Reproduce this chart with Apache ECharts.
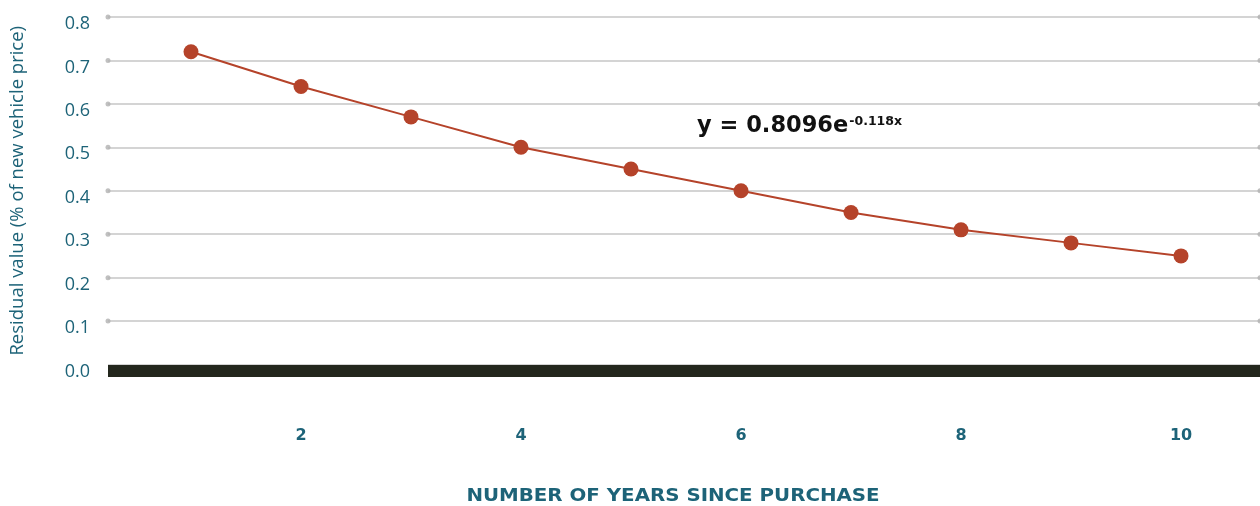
<!DOCTYPE html>
<html>
<head>
<meta charset="utf-8">
<script src="https://cdn.jsdelivr.net/npm/echarts@6/dist/echarts.min.js"></script>
<style>
  html, body { margin: 0; padding: 0; background: #fff; }
  #chart { width: 1260px; height: 506px; }
</style>
</head>
<body>
<div id="chart"></div>
<script>
// Years since purchase and the residual value share of the new price
const years = [1, 2, 3, 4, 5, 6, 7, 8, 9, 10];
const residual = [0.72, 0.64, 0.57, 0.50, 0.45, 0.40, 0.35, 0.31, 0.28, 0.25];
const xLabelYears = [2, 4, 6, 8, 10];
const yTicks = [0.1, 0.2, 0.3, 0.4, 0.5, 0.6, 0.7, 0.8];
const equationMain = 'y = 0.8096e';
const equationExp = '-0.118x';

const X_MIN = 0.2455, X_MAX = 10.718;
const TEAL = '#1d6378';
const RUST = '#b5432a';

const chart = echarts.init(document.getElementById('chart'));

// grey end caps on each horizontal grid line
const capData = [];
yTicks.forEach(v => { capData.push([X_MIN, v]); capData.push([X_MAX, v]); });

chart.setOption({
  animation: false,
  grid: { left: 108, right: 0, top: 17, bottom: 141.5 },
  xAxis: {
    type: 'value',
    min: X_MIN,
    max: X_MAX,
    offset: 6.5,
    axisLine: { show: true, onZero: false, lineStyle: { color: '#23271d', width: 12, cap: 'butt' } },
    axisTick: { show: false },
    splitLine: { show: false },
    axisLabel: {
      customValues: xLabelYears,
      margin: 57,
      color: TEAL,
      fontFamily: 'DejaVu Sans',
      fontWeight: 'bold',
      fontSize: 16
    }
  },
  yAxis: {
    type: 'value',
    min: 0,
    max: 0.8,
    interval: 0.1,
    name: 'Residual value (% of new vehicle price)',
    nameLocation: 'middle',
    nameGap: 81,
    nameTextStyle: { color: TEAL, fontFamily: 'Open Sans', fontSize: 18.5 },
    axisLine: { show: false },
    axisTick: { show: false },
    axisLabel: {
      margin: 18,
      color: TEAL,
      fontFamily: 'Open Sans',
      fontSize: 18,
      verticalAlign: 'top',
      lineHeight: 14,
      formatter: v => v.toFixed(1)
    },
    splitLine: { lineStyle: { color: '#c6c6c6', width: 1.5 } }
  },
  graphic: [
    {
      type: 'text',
      x: 697,
      y: 110,
      style: {
        text: '{m|' + equationMain + '}{s|' + equationExp + '}',
        rich: {
          m: { fontFamily: 'DejaVu Sans', fontWeight: 'bold', fontSize: 22.5, fill: '#111', verticalAlign: 'bottom', lineHeight: 28 },
          s: { fontFamily: 'DejaVu Sans', fontWeight: 'bold', fontSize: 12.5, fill: '#111', verticalAlign: 'top', padding: [5, 0, 0, 1], lineHeight: 28 }
        }
      }
    },
    {
      type: 'text',
      x: 673,
      y: 497,
      scaleX: 1.165,
      style: {
        text: 'NUMBER OF YEARS SINCE PURCHASE',
        fontFamily: 'DejaVu Sans',
        fontWeight: 'bold',
        fontSize: 17,
        fill: TEAL,
        textAlign: 'center',
        textVerticalAlign: 'middle'
      }
    }
  ],
  series: [
    {
      type: 'scatter',
      data: capData,
      symbolSize: 5,
      itemStyle: { color: '#b0b0b0' },
      silent: true,
      z: 1
    },
    {
      type: 'line',
      data: years.map((y, i) => [y, residual[i]]),
      symbol: 'circle',
      symbolSize: 15,
      lineStyle: { color: RUST, width: 2 },
      itemStyle: { color: RUST },
      z: 3
    }
  ]
});
</script>
</body>
</html>
